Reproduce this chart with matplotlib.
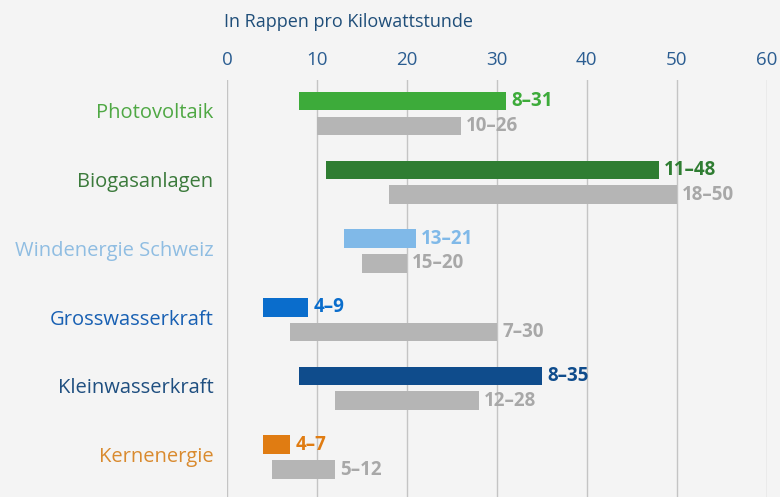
import numpy as np
import matplotlib.pyplot as plt

plt.rcParams['font.family'] = ['Open Sans', 'DejaVu Sans']

categories = ['Photovoltaik', 'Biogasanlagen', 'Windenergie Schweiz',
              'Grosswasserkraft', 'Kleinwasserkraft', 'Kernenergie']
new_lo = [8, 11, 13, 4, 8, 4]
new_hi = [31, 48, 21, 9, 35, 7]
old_lo = [10, 18, 15, 7, 12, 5]
old_hi = [26, 50, 20, 30, 28, 12]
bar_colors = ['#3dab3a', '#2f7d32', '#80b9e8', '#0a6dcc', '#0f4c8c', '#e07c12']
label_colors = ['#4fa844', '#3b7a3b', '#8fbde2', '#1860b3', '#1f4f80', '#d98a2e']
grey = '#b5b5b5'
ticks = [0, 10, 20, 30, 40, 50, 60]

bg = '#f4f4f4'
fig = plt.figure(figsize=(7.8, 4.97), dpi=100, facecolor=bg)
ax = fig.add_axes([0.291, 0.0, 0.692, 0.839], facecolor=bg)

y = np.arange(len(categories))
off = 0.36
h = 0.27

ax.barh(y, np.array(new_hi) - np.array(new_lo), left=new_lo, height=h,
        color=bar_colors, zorder=3)
ax.barh(y + off, np.array(old_hi) - np.array(old_lo), left=old_lo, height=h,
        color=grey, zorder=3)

for i in range(len(categories)):
    ax.text(new_hi[i] + 0.6, y[i], f'{new_lo[i]}–{new_hi[i]}', color=bar_colors[i],
            fontsize=13.5, fontweight='bold', va='center', ha='left')
    ax.text(old_hi[i] + 0.6, y[i] + off, f'{old_lo[i]}–{old_hi[i]}', color='#a8a8a8',
            fontsize=13.5, fontweight='bold', va='center', ha='left')
    ax.text(-1.5, y[i] + off / 2, categories[i], color=label_colors[i],
            fontsize=14.5, va='center', ha='right')

ax.set_xlim(0, 60)
ax.set_ylim(5.76, -0.307)
ax.set_xticks(ticks)
ax.xaxis.tick_top()
ax.tick_params(axis='x', length=0, pad=8, labelsize=13.5, labelcolor='#2b5d91')
ax.set_yticks([])
for s in ax.spines.values():
    s.set_visible(False)
ax.grid(axis='x', color='#c4c4c4', linewidth=1, zorder=0)

fig.text(0.287, 0.955, 'In Rappen pro Kilowattstunde', color='#1f4e79',
         fontsize=13, ha='left', va='center')

fig.savefig('out.png', dpi=100, facecolor=bg)
